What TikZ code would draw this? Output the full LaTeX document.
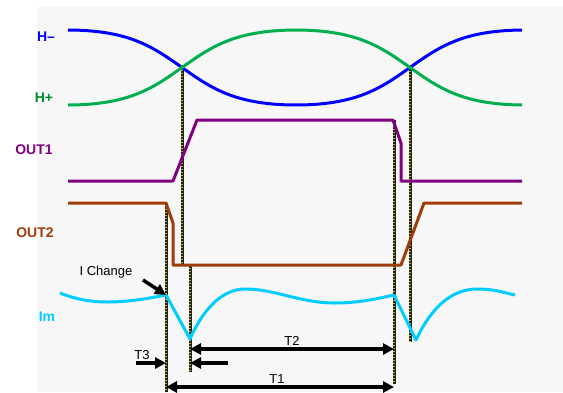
\documentclass[tikz,border=0pt]{standalone}
\usepackage{fontspec}
\setmainfont{Liberation Sans}
\usepackage{tikz}
\usetikzlibrary{arrows.meta,positioning}

\definecolor{hminus}{RGB}{0,0,255}
\definecolor{hplus}{RGB}{0,176,80}
\definecolor{hpluslbl}{RGB}{0,140,40}
\definecolor{outone}{RGB}{128,0,128}
\definecolor{outtwo}{RGB}{160,60,10}
\definecolor{imcol}{RGB}{0,204,255}
\definecolor{bgcol}{RGB}{247,247,247}
\definecolor{guidedark}{RGB}{35,35,15}
\definecolor{guidedot}{RGB}{180,180,90}

\begin{document}
\begin{tikzpicture}[
    x=1pt, y=-1pt,
    wave/.style={line width=3pt, line join=round},
    siglabel/.style={font=\fontsize{14}{16}\selectfont\bfseries, inner sep=0pt},
    timelabel/.style={font=\fontsize{13}{15}\selectfont, inner sep=0pt},
    guide/.style={line width=3pt, guidedark},
    guidedots/.style={line width=1.5pt, guidedot, dash pattern=on 1.4pt off 1.6pt},
    timearrow/.style={line width=3.5pt, -{Triangle[length=11pt,width=11pt]}},
    timearrows/.style={line width=3.5pt, {Triangle[length=11pt,width=11pt]}-{Triangle[length=11pt,width=11pt]}},
    declare function={hall(\t)=tanh(1.1*sin((\t-182)/114*90))/tanh(1.1);}
]
\useasboundingbox (0,0) rectangle (563,392);
\fill[bgcol] (37,7) rectangle (563,392);

% signal names
\node[siglabel, text=hminus] (lblHm) at (46,37) {H–};
\node[siglabel, text=hpluslbl] (lblHp) at (44,98) {H+};
\node[siglabel, text=outone] (lblOut1) at (34,150) {OUT1};
\node[siglabel, text=outtwo] (lblOut2) at (35,233) {OUT2};
\node[siglabel, text=imcol] (lblIm) at (47,317) {Im};

% guide lines
\foreach \gx/\gtop/\gbot in {182/67/265, 190/265/372, 166/203/392, 394/120/384, 410/68/342} {
    \draw[guide] (\gx,\gtop) -- (\gx,\gbot);
    \draw[guidedots] (\gx,\gtop) -- (\gx,\gbot);
}

% hall signals
\draw[wave, hminus] plot[domain=68:522, samples=121, smooth] (\x, {67.5+37.5*hall(\x)});
\draw[wave, hplus] plot[domain=68:522, samples=121, smooth] (\x, {67.5-37.5*hall(\x)});

% outputs
\draw[wave, outone] (68,181) -- (173,181) -- (197,120) -- (393,120) -- (401,143) -- (401,181) -- (522,181);
\draw[wave, outtwo] (68,203) -- (166,203) -- (173,223) -- (173,265) -- (401,265) -- (424,203) -- (522,203);

% current
\draw[wave, imcol] (60,293) .. controls (75,299) and (90,302) .. (107,302)
    .. controls (130,302) and (150,298) .. (166,295) -- (190,339)
    .. controls (205,305) and (225,289) .. (245,289)
    .. controls (275,289) and (300,303) .. (335,303)
    .. controls (360,303) and (380,298) .. (394,295) -- (416,340)
    .. controls (430,310) and (450,289) .. (477,289)
    .. controls (495,289) and (505,293) .. (515,295);

% timing marks
\coordinate (chg) at (166,295);
\coordinate (chgTail) at (143,280);
\coordinate (t2L) at (190,349);
\coordinate (t2R) at (394,349);
\coordinate (t2Tail) at (228,363);
\coordinate (t2Head) at (190,363);
\coordinate (t3Tail) at (136,363);
\coordinate (t3Head) at (166,363);
\coordinate (t1L) at (166,387);
\coordinate (t1R) at (394,387);

\node[timelabel] (lblChange) at (106,272) {I Change};
\node[timelabel] (lblT2) at (292,341) {T2};
\node[timelabel] (lblT3) at (142,355) {T3};
\node[timelabel] (lblT1) at (277,379) {T1};

\draw[timearrow] (chgTail) -- (chg);
\draw[timearrows] (t2L) -- (t2R);
\draw[timearrow] (t2Tail) -- (t2Head);
\draw[timearrow] (t3Tail) -- (t3Head);
\draw[timearrows] (t1L) -- (t1R);
\end{tikzpicture}
\end{document}
